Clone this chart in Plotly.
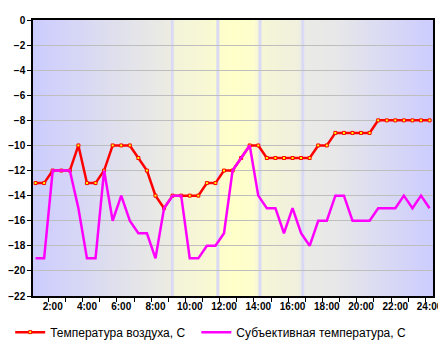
import plotly.graph_objects as go
import numpy as np

# time in hours, half-hour steps from 1:00 to 24:00
hours = [1 + 0.5 * i for i in range(47)]
air_temp = [-13, -13, -12, -12, -12, -10, -13, -13, -12, -10, -10, -10, -11, -12, -14, -15,
            -14, -14, -14, -14, -13, -13, -12, -12, -11, -10, -10, -11, -11, -11, -11, -11,
            -11, -10, -10, -9, -9, -9, -9, -9, -8, -8, -8, -8, -8, -8, -8]
feel_temp = [-19, -19, -12, -12, -12, -15, -19, -19, -12, -16, -14, -16, -17, -17, -19, -15,
             -14, -14, -19, -19, -18, -18, -17, -12, -11, -10, -14, -15, -15, -17, -15, -17,
             -18, -16, -16, -14, -14, -16, -16, -16, -15, -15, -15, -14, -15, -14, -15]
label_hours = list(range(2, 25, 2))
tick_labels = [f"{h}:00" for h in label_hours]
minor_ticks = [0.75 + k for k in range(1, 24)]
band_lines = [8.98, 11.64, 14.1, 16.6]

X0, X1 = 0.85, 24.2

fig = go.Figure()

# background gradient
stops = [(0.0, (204, 204, 255)), (0.30, (232, 232, 230)), (0.348, (237, 237, 226)),
         (0.352, (243, 243, 218)), (0.455, (249, 249, 210)), (0.46, (253, 253, 205)),
         (0.50, (255, 255, 202)), (0.555, (253, 253, 205)), (0.56, (246, 246, 214)),
         (0.665, (240, 240, 222)), (0.67, (234, 234, 230)), (0.75, (232, 232, 232)),
         (1.0, (204, 204, 255))]
sx = [s[0] for s in stops]
n = 200
shapes = []
for i in range(n):
    a, b = i / n, (i + 1) / n
    m = (a + b) / 2
    c = [int(round(np.interp(m, sx, [s[1][k] for s in stops]))) for k in range(3)]
    shapes.append(dict(type="rect", xref="paper", yref="paper", x0=a, x1=b + 0.001, y0=0, y1=1,
                       fillcolor=f"rgb({c[0]},{c[1]},{c[2]})", line=dict(width=0), layer="below"))
for h in band_lines:
    shapes.append(dict(type="line", xref="x", yref="paper", x0=h, x1=h, y0=0, y1=1,
                       line=dict(color="rgba(218,218,245,1)", width=3), layer="below"))

fig.add_trace(go.Scatter(x=hours, y=air_temp, mode="lines+markers", name="Температура воздуха, С",
                         legend="legend",
                         line=dict(color="#FF0000", width=2.5),
                         marker=dict(symbol="square", size=3, color="#FFFF00",
                                     line=dict(color="#FF0000", width=1))))
fig.add_trace(go.Scatter(x=hours, y=feel_temp, mode="lines", name="Субъективная температура, С",
                         legend="legend2",
                         line=dict(color="#FF00FF", width=2.5)))

legend_font = dict(family="Liberation Sans, Arial", size=12, color="black")
# page body adds an 8px offset; figure is sized to the visible area
fig.update_layout(
    width=438, height=343,
    margin=dict(l=25, r=13, t=12, b=55, autoexpand=False),
    paper_bgcolor="white", plot_bgcolor="rgba(0,0,0,0)",
    shapes=shapes,
    showlegend=True,
    legend=dict(orientation="h", xref="container", yref="container", x=0.005, y=0.055,
                xanchor="left", yanchor="middle", font=legend_font, bgcolor="rgba(0,0,0,0)"),
    legend2=dict(orientation="h", xref="container", yref="container", x=0.43, y=0.055,
                 xanchor="left", yanchor="middle", font=legend_font, bgcolor="rgba(0,0,0,0)"),
    font=dict(family="Liberation Sans, Arial", size=10, color="black"),
)
fig.update_xaxes(range=[X0, X1], tickmode="array", tickvals=label_hours, ticktext=tick_labels,
                 ticks="", showgrid=False, zeroline=False, automargin=False,
                 showline=True, linecolor="black", linewidth=1.5, mirror=True,
                 tickfont=dict(family="Liberation Sans, Arial", size=10, color="black", weight="bold"),
                 minor=dict(tickmode="array", tickvals=minor_ticks, ticks="outside", ticklen=4,
                            tickcolor="black", tickwidth=1, showgrid=False))
fig.update_yaxes(range=[-22, 0], dtick=2, tick0=0, ticks="outside", ticklen=4, tickcolor="black",
                 showgrid=True, gridcolor="#BEBEBE", gridwidth=1, zeroline=False, automargin=False,
                 showline=True, linecolor="black", linewidth=1.5, mirror=True,
                 tickfont=dict(family="Liberation Sans, Arial", size=10, color="black", weight="bold"))

fig.write_html("out.html")
